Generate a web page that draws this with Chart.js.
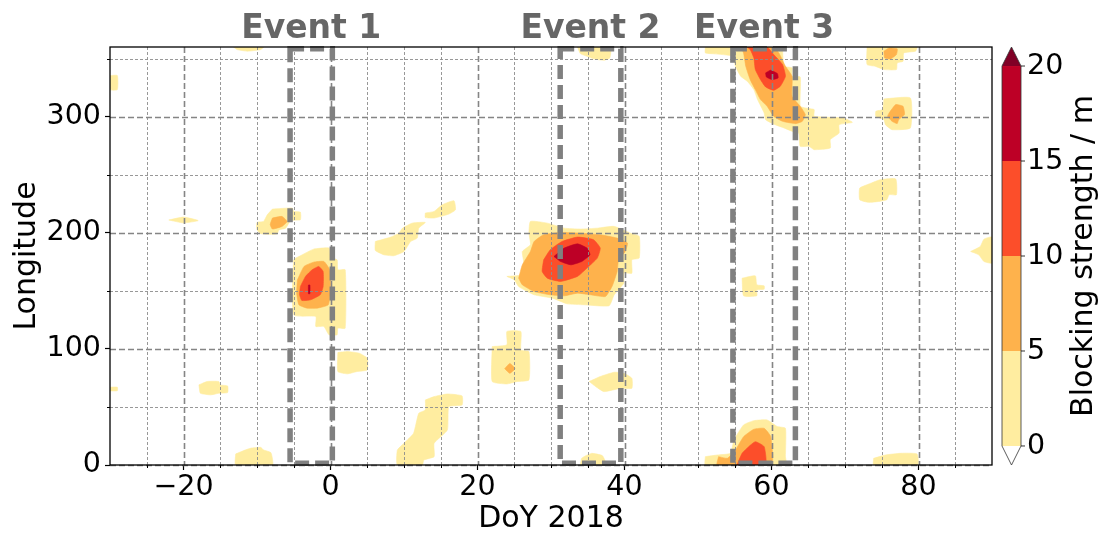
<!DOCTYPE html>
<html>
<head>
    <title>Blocking strength</title>
    <script src="https://cdn.jsdelivr.net/npm/chart.js"></script>
    <style>
        html, body { margin: 0; padding: 0; background: #fff; }
        #wrap { width: 1104px; height: 534px; }
    </style>
</head>
<body>
    <div id="wrap"><canvas id="blockChart" width="1104" height="534"></canvas></div>

    <script>
        // ejes
        var xTickValues = [-20, 0, 20, 40, 60, 80];
        var xMinorTicks = [-25, -15, -10, -5, 5, 10, 15, 25, 30, 35, 45, 50, 55, 65, 70, 75, 85];
        var yTickValues = [0, 100, 200, 300];
        var yMinorTicks = [50, 150, 250, 350];

        // niveles de la barra de color
        var levels = [0, 5, 10, 15, 20];
        var levelColors = ['#ffeda0', '#feb24c', '#fc4e2a', '#bd0026'];
        var overColor = '#800026';

        // eventos (DoY inicio / fin, longitud)
        var eventNames = ['Event 1', 'Event 2', 'Event 3'];
        var eventStart = [-5.5, 31.25, 54.75];
        var eventEnd = [0.25, 39.5, 63.25];
        var eventLon = [1.5, 358.5];

        // contornos 0-5 m  [DoY, longitud]
        var ylwA = [[-22, 211], [-20, 213.5], [-18, 210.5], [-20, 208.5]];
        var ylwB = [[-7.9, 220.4], [-5.2, 221.3], [-5.0, 218.4], [-4.1, 217.8], [-4.1, 211.2], [-5.4, 210.6], [-6.1, 204], [-7.0, 202.6], [-7.3, 198.9], [-9.5, 199.2], [-10, 202.6], [-10, 208.9], [-9.1, 209.8], [-8.6, 215.5]];
        var ylwC = [[-4.1, 180.2], [-2.3, 185.9], [-0.2, 186.8], [0, 179], [0.9, 176.7], [1, 168.1], [2, 168.1], [2, 117.8], [1, 117.8], [0.9, 112.1], [-0.2, 112.1], [-0.9, 119.3], [-2, 119.3], [-2, 127.9], [-5, 129.3], [-5, 176.7]];
        var ylwD = [[1, 96.9], [2.3, 97.7], [3.9, 96.3], [5, 92], [5, 81.9], [3.6, 80.5], [2.3, 78.5], [1, 80.5]];
        var ylwE = [[-17.9, 69], [-16.8, 71.9], [-15.2, 71.9], [-15, 69], [-14, 68.1], [-14, 62.4], [-15.2, 61.8], [-16.3, 60.4], [-17.7, 61.8]];
        var ylwF = [[-30, 67], [-29, 67], [-29, 64], [-30, 64]];
        var ylwG = [[-12.9, 9.5], [-11.8, 12.4], [-10.9, 14.4], [-9.5, 15.2], [-9.1, 12.9], [-8.1, 10.6], [-7.9, 0], [-12.9, 0]];
        var ylwH = [[12.9, 56], [14.1, 58.9], [15.9, 61.2], [17.9, 59.5], [17.9, 51.7], [16.1, 50.3], [15.9, 30.2], [14.1, 18.7], [14.1, 7.2], [12.7, 4.3], [12.5, 0], [9.1, 0], [9.1, 12.9], [10, 18.7], [11.3, 27.3], [12, 44.5], [12.9, 47.4]];
        var ylwI = [[6.1, 192.5], [8.2, 196.3], [9.3, 199.7], [9.8, 204], [11.1, 208.3], [12.9, 208.9], [12, 204], [11.8, 195.4], [10.9, 192.5], [10, 183.9], [8.6, 180.2], [7.3, 181], [6.1, 184.8]];
        var ylwJ = [[12.9, 217], [14.1, 218.4], [15.2, 224.1], [16.8, 227.6], [17, 219.8], [16.1, 216.1], [14.1, 212.7], [12.9, 213.2]];
        var ylwK = [[22, 102], [24, 103.5], [24, 115], [25.9, 115], [25.9, 99.1], [27, 97.7], [27, 73.3], [25.4, 71.9], [24, 69.8], [22, 71.9]];
        var ylwL = [[24, 162.4], [25.9, 163.8], [26.3, 173.9], [26.1, 183.9], [27.2, 189.7], [27, 199.7], [27.2, 209.8], [29.5, 208.3], [31.8, 204], [34, 203.2], [36.3, 204], [38.6, 205.5], [40.8, 199.7], [42, 196.9], [42, 178.2], [41, 176.7], [41, 165.2], [39.9, 165.2], [39.9, 156.6], [38.6, 146.6], [37.9, 137.1], [34.5, 138], [32.2, 138.8], [30.2, 143.7], [27.7, 146.6], [25.6, 153.7], [25, 159.5]];
        var ylwM = [[35.2, 71.9], [36.7, 76.2], [38.6, 79.9], [39.9, 79], [41, 74.7], [41, 66.1], [39.5, 66.1], [37.2, 63.2], [36.1, 67.5]];
        var ylwN = [[56, 160.9], [57.8, 162.9], [58, 155.2], [59, 154.3], [59, 151.4], [58, 150.9], [58, 145.7], [56.2, 145.7]];
        var ylwO = [[51, 7.2], [52.6, 8.6], [54.4, 10.1], [54.9, 21.6], [56.2, 34.5], [57.6, 38.2], [59.4, 38.8], [60.8, 33.1], [61.9, 31.6], [61.9, 7.2], [62, 0], [51, 0]];
        var ylwP = [[73.9, 5.8], [75.5, 8.6], [77.6, 10.1], [79.8, 9.5], [79.9, 0], [73.9, 0]];
        var ylwQ = [[73, 241.4], [74.8, 245.7], [76.9, 246.3], [77, 232.8], [76, 232.8], [75.7, 228.5], [74.6, 227], [73.2, 226.2], [72, 228.5], [72, 238.5]];
        var ylwR = [[87.1, 183.9], [88.4, 188.2], [88.9, 194.5], [90, 196.3], [90, 174], [88.9, 175.3], [88.2, 181]];
        var ylwS = [[33.6, 360], [38.1, 360], [38, 350.6], [37.2, 348.6], [35.8, 349.8], [34.9, 352], [34, 354.3]];
        var ylwT = [[51, 360], [61.5, 360], [61.5, 358], [61.7, 343.4], [62.8, 342], [62.8, 334.8], [63.9, 334.2], [63.9, 309], [64.6, 307.5], [65.8, 306.1], [65.8, 300.3], [69.8, 298.9], [71, 295.1], [69.2, 293.1], [69.2, 285.9], [68, 280.2], [68, 273], [65.8, 271.6], [65.1, 274.5], [63.9, 274.5], [63.7, 285.9], [62.8, 287.4], [61.7, 290.3], [60.5, 293.1], [59.2, 297.4], [59, 303.2], [58.1, 314.7], [57.6, 323.3], [56.7, 330.5], [55.8, 334.8], [55.1, 343.4], [54.7, 352.1], [52.2, 354.1], [51, 354.9]];
        var ylwU = [[73, 360], [79.8, 360], [79.6, 356.4], [78, 354.9], [77.9, 347.7], [77.1, 346.3], [77, 340.6], [75.3, 340.6], [74.1, 343.4], [73, 344.9]];
        var ylwV = [[75.3, 315.3], [78.9, 316.1], [78.9, 290.3], [76.4, 288.8], [75.5, 293.1], [75.3, 297.4], [74.2, 300.3], [74.2, 304.6], [75.1, 306.1]];
        var ylwW = [[-13.2, 360], [-9.1, 360], [-9.5, 357.8], [-11.3, 356.4], [-12.7, 357.8]];
        var ylwX = [[-30, 335.4], [-29, 335.4], [-29, 323.3], [-30, 323.3]];
        var ylwY = [[34, 0], [34.2, 6], [35.5, 10], [37, 8], [37.5, 0]];

        // contornos 5-10 m
        var orgB = [[-7.9, 212.7], [-6.6, 214.1], [-5.9, 209.8], [-6.6, 205.5], [-7.9, 203.2], [-8.2, 207.1]];
        var orgC = [[-4.5, 159.5], [-3.6, 171], [-2.3, 174.7], [-0.9, 175.3], [-0.1, 168.1], [0, 150.9], [-0.3, 138], [-1.8, 135.1], [-3.2, 135.1], [-4.3, 138], [-4.6, 148]];
        var orgK = [[23.7, 83], [24.4, 87.5], [25.1, 83], [24.4, 79]];
        var orgL = [[25.6, 160.9], [26.1, 172.4], [27.2, 183.9], [27.7, 192.5], [29, 198.3], [31.3, 200.3], [34, 199.7], [36.7, 198.3], [39, 195.4], [40.4, 191.1], [40.1, 183.9], [39.2, 176.7], [39, 166.7], [38.3, 153.7], [37.4, 145.1], [35.4, 146.6], [33.6, 148], [31.8, 145.7], [29.9, 146.6], [27.7, 149.4], [26.1, 155.2]];
        var orgO = [[52.8, 7.2], [54, 5.8], [55.1, 12.9], [56.2, 24.4], [57.6, 30.8], [59, 31.6], [59.9, 24.4], [60, 0], [52.6, 0]];
        var orgT = [[55.8, 360], [60.3, 360], [61, 354.9], [61.9, 343.4], [62.8, 334.8], [62.8, 317.6], [63.9, 309], [64.6, 301.8], [64.2, 296], [63.3, 294], [61.5, 296], [60.3, 300.3], [59.4, 309], [58.5, 314.7], [57.8, 323.3], [57.1, 331.9], [56.5, 343.4], [56.2, 354.9]];
        var orgU = [[75.3, 356.4], [76, 359.2], [77.1, 358.4], [77, 353.5], [76.2, 349.7], [75.4, 350.6]];
        var orgV = [[76, 303.2], [76.9, 310.4], [77.9, 308.9], [78.1, 301.8], [77.3, 297.4], [77.1, 294], [76.4, 296], [75.8, 300.3]];

        // contornos 10-15 m
        var redC = [[-4.1, 153.7], [-3.4, 162.4], [-2.5, 168.1], [-1.6, 171], [-1, 166.7], [-1, 153.7], [-1.4, 146.6], [-2.7, 142.3], [-3.9, 141.7], [-4.2, 146.6]];
        var redL = [[29, 176.7], [29.9, 185.4], [31.5, 192.5], [33.6, 196.3], [35.8, 194], [36.7, 186.8], [36.3, 178.2], [34.9, 169.6], [33.6, 162.4], [31.3, 158.1], [29.5, 160.9], [28.8, 166.7]];
        var redO = [[55.3, 0], [56, 10.1], [56.9, 15.8], [57.8, 20.1], [59, 15.8], [59.2, 0]];
        var redT = [[56.7, 360], [59.4, 360], [60.3, 353.5], [61.5, 344.9], [61.9, 334.8], [61.2, 326.2], [60.3, 322.7], [59.2, 325.6], [58.5, 331.9], [57.8, 340.6], [57.6, 350.6], [57.1, 357.8]];

        // contornos 15-20 m
        var drkC = [[-3.0, 147.5], [-2.8, 147.5], [-2.8, 155], [-3.0, 155]];
        var drkL = [[30.4, 179.6], [31.8, 186.8], [33.6, 190.5], [34.9, 186.8], [35.3, 181], [34.2, 175.3], [32.7, 172.4], [31.3, 175.3]];
        var drkT = [[59.2, 337.7], [59.9, 340], [60.8, 337.1], [60.9, 333.4], [60.1, 331.9], [59.3, 334.2]];

        var shapesByLevel = [
            [ylwA, ylwB, ylwC, ylwD, ylwE, ylwF, ylwG, ylwH, ylwI, ylwJ, ylwK, ylwL, ylwM, ylwN, ylwO, ylwP, ylwQ, ylwR, ylwS, ylwT, ylwU, ylwV, ylwW, ylwX, ylwY],
            [orgB, orgC, orgK, orgL, orgO, orgT, orgU, orgV],
            [redC, redL, redO, redT],
            [drkC, drkL, drkT]
        ];

        var datasets = [];
        shapesByLevel.forEach(function (shapes, lvl) {
            shapes.forEach(function (pts) {
                var data = pts.map(function (p) { return { x: p[0], y: p[1] }; });
                data.push({ x: pts[0][0], y: pts[0][1] });
                datasets.push({
                    data: data,
                    showLine: true,
                    fill: 'shape',
                    backgroundColor: levelColors[lvl],
                    borderColor: levelColors[lvl],
                    borderWidth: 0.6,
                    pointRadius: 0,
                    tension: 0.15,
                    order: 10 - lvl
                });
            });
        });

        var FONT = "'DejaVu Sans', sans-serif";

        // rejilla, recuadros de eventos, marco y barra de color
        var extras = {
            id: 'extras',
            afterDatasetsDraw: function (chart) {
                var ctx = chart.ctx;
                var ca = chart.chartArea;
                var xs = chart.scales.x, ys = chart.scales.y;
                ctx.save();

                function vline(v, w, color, dash) {
                    var px = Math.round(xs.getPixelForValue(v)) + 0.5;
                    ctx.beginPath(); ctx.lineWidth = w; ctx.strokeStyle = color; ctx.setLineDash(dash);
                    ctx.moveTo(px, ca.top); ctx.lineTo(px, ca.bottom); ctx.stroke();
                }
                function hline(v, w, color, dash) {
                    var py = Math.round(ys.getPixelForValue(v)) + 0.5;
                    ctx.beginPath(); ctx.lineWidth = w; ctx.strokeStyle = color; ctx.setLineDash(dash);
                    ctx.moveTo(ca.left, py); ctx.lineTo(ca.right, py); ctx.stroke();
                }
                xMinorTicks.forEach(function (v) { vline(v, 0.9, '#8c8c8c', [3, 2]); });
                yMinorTicks.forEach(function (v) { hline(v, 0.9, '#8c8c8c', [3, 2]); });
                xTickValues.forEach(function (v) { vline(v, 1.6, '#858585', [6, 3]); });
                yTickValues.forEach(function (v) { hline(v, 1.6, '#858585', [6, 3]); });

                // recuadros
                ctx.lineWidth = 5.5;
                ctx.strokeStyle = '#808080';
                ctx.setLineDash([14, 6]);
                for (var i = 0; i < eventNames.length; i++) {
                    var x0 = xs.getPixelForValue(eventStart[i]);
                    var x1 = xs.getPixelForValue(eventEnd[i]);
                    var y0 = ys.getPixelForValue(eventLon[0]);
                    var y1 = ys.getPixelForValue(eventLon[1]);
                    ctx.strokeRect(x0, y1, x1 - x0, y0 - y1);
                    ctx.save();
                    ctx.setLineDash([]);
                    ctx.fillStyle = '#666666';
                    ctx.font = 'bold 33px ' + FONT;
                    ctx.textAlign = 'center';
                    ctx.textBaseline = 'alphabetic';
                    ctx.fillText(eventNames[i], (x0 + x1) / 2, ca.top - 9);
                    ctx.restore();
                }

                // marco
                ctx.setLineDash([]);
                ctx.lineWidth = 1.3;
                ctx.strokeStyle = '#000';
                ctx.strokeRect(ca.left, ca.top, ca.right - ca.left, ca.bottom - ca.top);

                // marcas menores
                ctx.lineWidth = 1;
                xMinorTicks.forEach(function (v) {
                    var px = Math.round(xs.getPixelForValue(v)) + 0.5;
                    ctx.beginPath(); ctx.moveTo(px, ca.bottom); ctx.lineTo(px, ca.bottom + 3); ctx.stroke();
                });
                yMinorTicks.forEach(function (v) {
                    var py = Math.round(ys.getPixelForValue(v)) + 0.5;
                    ctx.beginPath(); ctx.moveTo(ca.left, py); ctx.lineTo(ca.left - 3, py); ctx.stroke();
                });

                // barra de color
                var cbL = ca.right + 10, cbW = 19;
                var ext = (ca.bottom - ca.top) * 0.0455;
                var cbTop = ca.top + ext, cbBot = ca.bottom - ext;
                var lvlPx = function (v) { return cbBot - (v - levels[0]) / (levels[levels.length - 1] - levels[0]) * (cbBot - cbTop); };
                for (var k = 0; k < levelColors.length; k++) {
                    ctx.fillStyle = levelColors[k];
                    ctx.fillRect(cbL, lvlPx(levels[k + 1]), cbW, lvlPx(levels[k]) - lvlPx(levels[k + 1]));
                }
                ctx.fillStyle = overColor;
                ctx.beginPath();
                ctx.moveTo(cbL, cbTop); ctx.lineTo(cbL + cbW / 2, ca.top); ctx.lineTo(cbL + cbW, cbTop); ctx.closePath();
                ctx.fill();
                ctx.fillStyle = '#ffffff';
                ctx.beginPath();
                ctx.moveTo(cbL, cbBot); ctx.lineTo(cbL + cbW / 2, ca.bottom); ctx.lineTo(cbL + cbW, cbBot); ctx.closePath();
                ctx.fill();
                ctx.strokeStyle = '#333';
                ctx.lineWidth = 0.8;
                ctx.beginPath();
                ctx.moveTo(cbL, cbTop); ctx.lineTo(cbL + cbW / 2, ca.top); ctx.lineTo(cbL + cbW, cbTop);
                ctx.lineTo(cbL + cbW, cbBot); ctx.lineTo(cbL + cbW / 2, ca.bottom); ctx.lineTo(cbL, cbBot);
                ctx.closePath();
                ctx.stroke();

                ctx.fillStyle = '#000';
                ctx.strokeStyle = '#000';
                ctx.font = '28.5px ' + FONT;
                ctx.textAlign = 'left';
                ctx.textBaseline = 'middle';
                levels.forEach(function (v) {
                    var py = lvlPx(v);
                    ctx.beginPath(); ctx.moveTo(cbL + cbW, py); ctx.lineTo(cbL + cbW + 4, py); ctx.stroke();
                    ctx.fillText(String(v), cbL + cbW + 6, py + 1);
                });
                ctx.save();
                ctx.font = '30px ' + FONT;
                ctx.translate(ca.right + 92, (ca.top + ca.bottom) / 2);
                ctx.rotate(-Math.PI / 2);
                ctx.textAlign = 'center';
                ctx.fillText('Blocking strength / m', 0, 0);
                ctx.restore();

                ctx.restore();
            }
        };

        var ctx = document.getElementById('blockChart').getContext('2d');
        var blockChart = new Chart(ctx, {
            type: 'scatter',
            data: { datasets: datasets },
            plugins: [extras],
            options: {
                responsive: false,
                animation: false,
                events: [],
                layout: { padding: { left: 0, right: 112, top: 47, bottom: 0 } },
                plugins: { legend: { display: false }, tooltip: { enabled: false } },
                scales: {
                    x: {
                        type: 'linear',
                        min: -30,
                        max: 90,
                        afterBuildTicks: function (scale) {
                            scale.ticks = xTickValues.map(function (v) { return { value: v }; });
                        },
                        afterFit: function (scale) { scale.height = 69; },
                        grid: { drawOnChartArea: false, tickLength: 5, tickColor: '#000', tickWidth: 1.2 },
                        border: { display: false },
                        ticks: {
                            color: '#000',
                            padding: 0,
                            maxRotation: 0,
                            font: { family: FONT, size: 28.5 },
                            callback: function (v) { return v < 0 ? '\u2212' + Math.abs(v) : String(v); }
                        },
                        title: {
                            display: true,
                            text: 'DoY 2018',
                            color: '#000',
                            font: { family: FONT, size: 30 },
                            padding: { top: 0, bottom: -3 }
                        }
                    },
                    y: {
                        type: 'linear',
                        min: 0,
                        max: 360,
                        afterBuildTicks: function (scale) {
                            scale.ticks = yTickValues.map(function (v) { return { value: v }; });
                        },
                        afterFit: function (scale) { scale.width = 110; },
                        grid: { drawOnChartArea: false, tickLength: 5, tickColor: '#000', tickWidth: 1.2 },
                        border: { display: false },
                        ticks: {
                            color: '#000',
                            padding: 4,
                            font: { family: FONT, size: 28.5 }
                        },
                        title: {
                            display: true,
                            text: 'Longitude',
                            color: '#000',
                            font: { family: FONT, size: 30 },
                            padding: { top: 9, bottom: 0 }
                        }
                    }
                }
            }
        });
    </script>
</body>
</html>
